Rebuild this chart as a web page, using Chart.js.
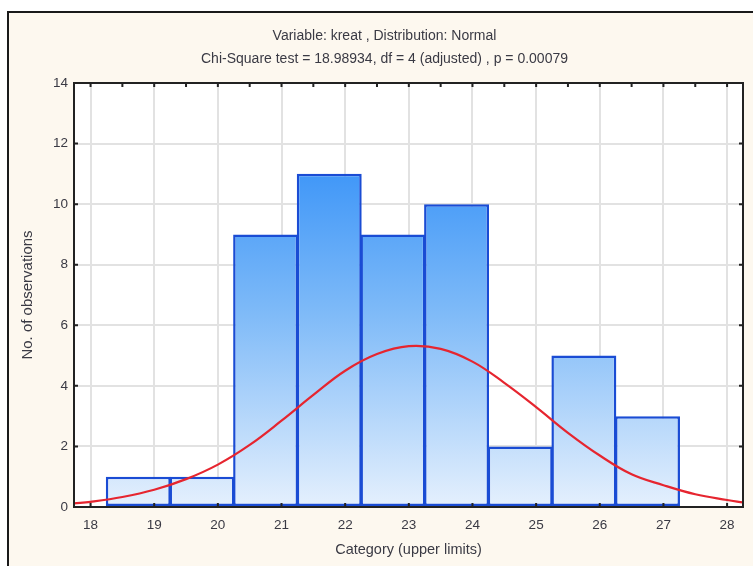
<!DOCTYPE html>
<html>
<head>
<meta charset="utf-8">
<script src="https://cdn.jsdelivr.net/npm/chart.js@4.4.1/dist/chart.umd.min.js"></script>
<style>
  body { margin: 0; background: #fff; }
  canvas { display: block; }
</style>
</head>
<body>
<canvas id="histChart" width="753" height="566"></canvas>
<script>
// hodnoty odčítané z obrázka
const binLower = [18.25, 19.25, 20.25, 21.25, 22.25, 23.25, 24.25, 25.25, 26.25];
const binUpper = [19.25, 20.25, 21.25, 22.25, 23.25, 24.25, 25.25, 26.25, 27.25];
const counts = [1, 1, 9, 11, 9, 10, 2, 5, 3];
const curveX = [17.74, 18, 18.5, 19, 19.5, 20, 20.5, 21, 21.5, 22, 22.5, 23, 23.5, 24, 24.5, 25, 25.5, 26, 26.5, 27, 27.5, 28, 28.25];
const curveY = [0.12, 0.17, 0.33, 0.57, 0.92, 1.40, 2.05, 2.85, 3.70, 4.50, 5.05, 5.31, 5.22, 4.80, 4.10, 3.30, 2.45, 1.70, 1.08, 0.72, 0.42, 0.23, 0.15];
const titleLines = ['Variable: kreat , Distribution: Normal', 'Chi-Square test = 18.98934, df = 4 (adjusted) , p = 0.00079'];
const xTitle = 'Category (upper limits)';
const yTitle = 'No. of observations';

const textColor = '#3a3a44';
const fontFamily = '"Liberation Sans", Arial, sans-serif';

// pozadie, rám a vnútorné značky osí
const framePlugin = {
    id: 'frame',
    afterLayout(chart) {
        // nadpis je v origináli trochu posunutý doprava
        if (chart.titleBlock) {
            chart.titleBlock.left += 26;
        }
    },
    beforeDraw(chart) {
        const c = chart.ctx;
        const a = chart.chartArea;
        c.save();
        c.fillStyle = '#fff';
        c.fillRect(0, 0, chart.width, chart.height);
        c.fillStyle = '#fdf8ef';
        c.fillRect(8, 12, chart.width - 8, chart.height - 12);
        c.strokeStyle = '#1a1a1a';
        c.lineWidth = 2;
        c.beginPath();
        c.moveTo(8, chart.height);
        c.lineTo(8, 12);
        c.lineTo(chart.width, 12);
        c.stroke();
        c.fillStyle = '#fff';
        c.fillRect(a.left, a.top, a.width, a.height);
        c.restore();
    },
    afterDatasetsDraw(chart) {
        const c = chart.ctx;
        const a = chart.chartArea;
        const xs = chart.scales.x;
        const ys = chart.scales.y;
        c.save();
        c.strokeStyle = '#222';
        c.lineWidth = 2;
        c.strokeRect(a.left, a.top, a.width, a.height);
        c.beginPath();
        xs.ticks.forEach(t => {
            const px = xs.getPixelForValue(t.value);
            c.moveTo(px, a.bottom); c.lineTo(px, a.bottom - 4);
            c.moveTo(px, a.top); c.lineTo(px, a.top + 4);
            const half = t.value + 0.5;
            if (half < xs.max) {
                const hx = xs.getPixelForValue(half);
                c.moveTo(hx, a.top); c.lineTo(hx, a.top + 4);
            }
        });
        ys.ticks.forEach(t => {
            const py = ys.getPixelForValue(t.value);
            c.moveTo(a.left, py); c.lineTo(a.left + 4, py);
            c.moveTo(a.right, py); c.lineTo(a.right - 4, py);
        });
        c.stroke();
        c.restore();
    }
};

function barGradient(context) {
    const area = context.chart.chartArea;
    if (!area) return '#6aaef7';
    const g = context.chart.ctx.createLinearGradient(0, area.top, 0, area.bottom);
    g.addColorStop(0, '#2286f7');
    g.addColorStop(0.2, '#3e96f8');
    g.addColorStop(0.55, '#80bbf8');
    g.addColorStop(1, '#e5f0fd');
    return g;
}

const ctx = document.getElementById('histChart').getContext('2d');
const chart = new Chart(ctx, {
    data: {
        datasets: [{
            type: 'line',
            label: 'Normal',
            data: curveX.map((x, i) => ({ x: x, y: curveY[i] })),
            borderColor: '#e6252f',
            borderWidth: 2.2,
            pointRadius: 0,
            tension: 0.4,
            order: 0
        }, {
            type: 'bar',
            label: 'Count',
            data: counts.map((v, i) => ({ x: (binLower[i] + binUpper[i]) / 2, y: v })),
            backgroundColor: barGradient,
            borderColor: '#1a4cd4',
            borderWidth: 2.5,
            borderSkipped: false,
            inflateAmount: 0,
            barPercentage: 1.02,
            categoryPercentage: 1,
            order: 1
        }]
    },
    options: {
        responsive: false,
        animation: false,
        devicePixelRatio: 1,
        layout: { padding: { left: 0, top: 0, right: 10, bottom: 0 } },
        plugins: {
            legend: { display: false },
            tooltip: { enabled: false },
            title: {
                display: true,
                text: titleLines,
                color: textColor,
                font: { family: fontFamily, size: 14, weight: 'normal', lineHeight: '23px' },
                padding: { top: 25, bottom: 12 }
            }
        },
        scales: {
            x: {
                type: 'linear',
                min: 17.74,
                max: 28.25,
                offset: false,
                border: { display: false },
                grid: { color: '#e2e2e2', lineWidth: 2, drawTicks: false, offset: false },
                ticks: {
                    stepSize: 1,
                    includeBounds: false,
                    color: textColor,
                    padding: 10,
                    font: { family: fontFamily, size: 13.5 }
                },
                title: {
                    display: true,
                    text: xTitle,
                    color: textColor,
                    font: { family: fontFamily, size: 14.5 },
                    padding: { top: 4, bottom: 7 }
                },
                afterFit(scale) { scale.height = 59; }
            },
            y: {
                min: 0,
                max: 14,
                border: { display: false },
                grid: { color: '#e2e2e2', lineWidth: 2, drawTicks: false },
                ticks: {
                    stepSize: 2,
                    color: textColor,
                    padding: 6,
                    font: { family: fontFamily, size: 13.5 }
                },
                title: {
                    display: true,
                    text: yTitle,
                    color: textColor,
                    font: { family: fontFamily, size: 15 },
                    padding: { top: 19, bottom: 4 }
                },
                afterFit(scale) { scale.width = 74; }
            }
        }
    },
    plugins: [framePlugin]
});
</script>
</body>
</html>
